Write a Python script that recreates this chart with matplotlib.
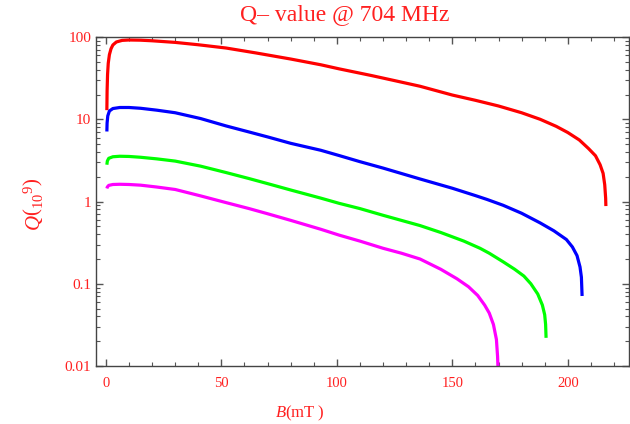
import matplotlib.pyplot as plt
from matplotlib.ticker import MultipleLocator, LogLocator, NullFormatter, FixedLocator

plt.rcParams['font.family'] = ['Liberation Serif', 'DejaVu Serif']
plt.rcParams['mathtext.fontset'] = 'custom'
plt.rcParams['mathtext.rm'] = 'Liberation Serif'
plt.rcParams['mathtext.it'] = 'Liberation Serif:italic'

# Q (10^9) versus peak field B (mT)
b_red = [0.4, 0.5, 0.7, 1.0, 1.5, 2.2, 3, 4.5, 7, 10, 15, 20, 30, 40, 52, 65, 80,
         93, 101, 115, 125, 136, 150, 160, 170, 180, 188, 195, 200, 205, 209, 212,
         214, 215.3, 216, 216.4, 216.5]
q_red = [12.9, 22, 35, 48, 61, 72, 80, 87, 91, 92, 91.5, 90, 86, 80.5, 73.5, 64, 54,
         46, 41, 34, 29.5, 25.2, 19.7, 17, 14.5, 12.0, 10.0, 8.2, 6.9, 5.6, 4.4, 3.6,
         2.8, 2.2, 1.6, 1.1, 0.88]

b_blue = [0.4, 0.5, 0.8, 1.5, 3, 6, 10, 15, 22, 30, 41, 52, 62, 70, 80, 93, 101,
          110, 120, 136, 150, 160, 165, 172, 180, 188, 194, 199.4, 202, 204, 205.3,
          205.9, 206.2]
q_blue = [7.1, 9, 11, 12.6, 13.5, 13.9, 13.9, 13.6, 12.9, 12.0, 10.2, 8.3, 7.0, 6.1,
          5.1, 4.2, 3.62, 3.05, 2.55, 1.88, 1.45, 1.18, 1.06, 0.9, 0.72, 0.55, 0.44,
          0.345, 0.28, 0.22, 0.16, 0.12, 0.071]

b_green = [0.4, 0.6, 1.2, 3, 6, 10, 15, 22, 30, 41, 52, 62, 70, 80, 93, 101, 110,
           120, 136, 145, 155, 162, 166, 172, 177, 181, 184, 187, 189, 190, 190.4,
           190.6]
q_green = [2.8, 3.1, 3.35, 3.5, 3.55, 3.53, 3.45, 3.3, 3.1, 2.69, 2.25, 1.9, 1.65,
           1.38, 1.1, 0.95, 0.82, 0.68, 0.51, 0.42, 0.33, 0.27, 0.235, 0.185, 0.15,
           0.124, 0.1, 0.075, 0.055, 0.042, 0.032, 0.022]

b_magenta = [0.4, 0.6, 1.2, 3, 6, 10, 15, 22, 30, 41, 52, 62, 70, 80, 93, 101, 110,
             120, 128, 136, 145, 152, 157, 161, 164, 166, 167.8, 169.1, 169.6, 169.8]
q_magenta = [1.44, 1.5, 1.57, 1.61, 1.62, 1.61, 1.58, 1.5, 1.4, 1.17, 0.97, 0.82,
             0.71, 0.59, 0.46, 0.39, 0.33, 0.27, 0.235, 0.2, 0.15, 0.115, 0.092,
             0.072, 0.055, 0.044, 0.032, 0.021, 0.013, 0.009]

series = [(b_red, q_red, '#ff0000'), (b_blue, q_blue, '#0000ff'),
          (b_green, q_green, '#00ff00'), (b_magenta, q_magenta, '#ff00ff')]

fig = plt.figure(figsize=(6.3, 4.24), dpi=100)
ax = fig.add_axes([0.1524, 0.1368, 0.8456, 0.7759])

for b, q, c in series:
    ax.plot(b, q, color=c, linewidth=2.3, solid_capstyle='butt',
            solid_joinstyle='round')

ax.set_yscale('log')
ax.set_xlim(-4.3, 226.4)
ax.set_ylim(0.01, 100)

ax.xaxis.set_major_locator(FixedLocator([0, 50, 100, 150, 200]))
ax.xaxis.set_minor_locator(MultipleLocator(10))
ax.yaxis.set_major_locator(FixedLocator([0.01, 0.1, 1, 10, 100]))
ax.yaxis.set_minor_locator(LogLocator(base=10, subs=range(2, 10)))
ax.yaxis.set_minor_formatter(NullFormatter())
ax.set_yticklabels(['0.01', '0.1', '1', '10', '100'])

ax.tick_params(which='both', direction='in', top=True, right=True,
               color='#555555', labelcolor='#ff2020')
ax.tick_params(which='major', length=5, width=1)
ax.tick_params(which='minor', length=2.8, width=0.8)
ax.tick_params(axis='x', pad=8, labelsize=10.5)
ax.tick_params(axis='y', labelsize=11)
for s in ax.spines.values():
    s.set_color('#444444')
    s.set_linewidth(1.0)

fig.text(345 / 630, 1 - 15 / 424, 'Q\u2013 value @ 704 MHz', color='#ff2020',
         fontsize=17, ha='center', va='center')
ax.set_xlabel(r'$B$(mT )', color='#ff2020', fontsize=12, va='center')
ax.xaxis.set_label_coords(0.383, -0.143)
ax.set_ylabel(r'$Q\left({}_{10}{}^{9}\right)$', color='#ff2020', fontsize=15,
              va='center')
ax.yaxis.set_label_coords(-0.118, 0.49)

fig.savefig('out.png', dpi=100, facecolor='white')
plt.close(fig)
